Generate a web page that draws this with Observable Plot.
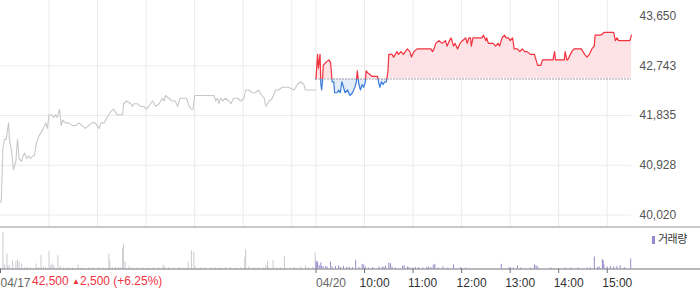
<!DOCTYPE html>
<html>
<head>
<meta charset="utf-8">
<script src="https://cdn.jsdelivr.net/npm/d3@7"></script>
<script src="https://cdn.jsdelivr.net/npm/@observablehq/plot@0.6"></script>
<style>
  html, body { margin: 0; padding: 0; background: #fff; }
  #chart { position: relative; width: 700px; height: 289px; overflow: hidden; font-family: "Liberation Sans", Arial, sans-serif; }
  #chart svg { position: absolute; left: 0; top: 0; }
  #summary { position: absolute; left: 32px; top: 275px; font-size: 12px; line-height: 13px; color: #f0333f; white-space: nowrap; }
  #summary .tri { font-size: 8px; position: relative; top: -1px; }
  #legend { position: absolute; left: 652px; top: 232px; font-family: "Noto Sans CJK KR", sans-serif; font-size: 11px; line-height: 12px; color: #333; white-space: nowrap; letter-spacing: -0.5px; }
  #legend .sw { display: inline-block; width: 3px; height: 8px; background: #9b87cf; margin-right: 3px; vertical-align: -1px; }
</style>
</head>
<body>
<div id="chart"></div>
<script>
// ---- data ----
const dayLabels = ["04/17", "04/20"];
const hourLabels = ["10:00", "11:00", "12:00", "13:00", "14:00", "15:00"];
const hourOffsets = [60, 120, 180, 240, 300, 360];   // minutes after 09:00
const sessionLength = 390;                            // 09:00 - 15:30
const basePrice = 42500;
const priceTicks = [40020, 40927.5, 41835, 42742.5, 43650];
const priceTickLabels = ["40,020", "40,928", "41,835", "42,743", "43,650"];
const summaryPrice = "42,500";
const summaryChange = "2,500";
const summaryPct = "(+6.25%)";
const legendLabel = "거래량";

// 04/17 price (minutes after 09:00, price)
const t17 = [0,1,3,5,7,10,11,14,16,19,
  21,23,26,28,30,32,35,37,40,42,
  44,47,49,53,56,58,60,63,66,68,
  70,73,75,77,80,84,89,93,97,101,
  105,109,113,117,122,124,128,132,136,140,
  144,148,151,152,156,161,163,165,169,173,
  177,180,183,188,192,196,200,202,204,208,
  212,216,219,222,227,230,233,236,238,240,
  243,247,255,264,266,268,270,272,275,278,
  282,285,288,293,297,301,303,307,311,315,
  319,323,326,328,332,336,340,344,348,352,
  356,363,367,371,375,377,383,389];
const p17 = [40250,40300,41250,41400,41400,41700,41400,41150,40850,41000,
  41400,41050,41000,41100,41150,41050,41100,41050,41100,41100,
  41300,41450,41500,41600,41700,41600,41850,41850,41800,41850,
  41800,41950,41650,41750,41700,41700,41650,41650,41700,41650,
  41600,41650,41700,41700,41600,41700,41700,41800,41900,41950,
  41850,41850,41850,42050,42100,42050,42000,42050,42050,42000,
  42000,41950,42000,42100,42000,42050,42150,42100,42200,42150,
  42100,42100,42000,42150,42150,42150,42000,41950,41950,42200,
  42200,42200,42200,42200,42100,42150,42050,42150,42100,42150,
  42100,42050,42150,42150,42100,42150,42300,42300,42250,42250,
  42300,42200,42150,42000,42100,42150,42300,42300,42350,42350,
  42350,42300,42400,42450,42400,42300,42300,42300];

// 04/20 price
const t20 = [0,2,3,5,6,7,8,9,12,16,
  18,20,22,23,26,28,30,32,34,36,
  39,42,45,48,50,51,53,55,57,59,
  61,62,65,69,74,76,78,79,81,83,
  85,87,89,90,94,96,100,102,105,108,
  113,116,118,121,125,129,133,134,137,142,
  144,146,148,152,156,160,162,165,167,170,
  172,175,178,181,185,187,189,191,192,194,
  197,201,205,207,210,211,213,216,219,222,
  225,227,230,233,235,238,240,243,245,249,
  252,255,258,261,265,270,272,274,276,278,
  280,285,289,293,295,296,301,307,308,310,
  311,313,316,319,323,328,332,335,338,341,
  344,345,348,352,356,360,364,368,370,372,
  374,376,381,385,388,390];
const p20 = [42500,42950,42700,42950,42400,42300,42450,42750,42800,42850,
  42800,42450,42450,42250,42250,42300,42250,42450,42350,42250,
  42300,42200,42250,42350,42450,42650,42400,42300,42400,42350,
  42450,42650,42600,42550,42550,42550,42400,42350,42450,42400,
  42450,42450,42650,42950,42950,42900,43000,42950,43000,42950,
  43050,43000,42900,43000,43050,43050,43050,43050,43050,43050,
  43000,43050,43150,43200,43150,43200,43100,43200,43250,43100,
  43150,43050,43150,43200,43250,43150,43250,43250,43100,43250,
  43250,43250,43250,43300,43200,43250,43150,43150,43150,43100,
  43150,43100,43250,43300,43250,43250,43200,43250,43050,43050,
  43000,43050,43000,43000,42950,42950,42850,42750,42750,42750,
  42850,42850,42850,42850,43000,42850,42850,42850,43000,42850,
  42850,42900,43000,43050,43050,43050,42950,42900,42950,43050,
  43100,43300,43300,43300,43350,43350,43350,43350,43200,43250,
  43200,43200,43200,43200,43200,43300];

// volume 04/17
const vt17 = [3,5,8,9,11,15,19,21,23,26,
  30,33,37,44,47,50,53,56,60,62,
  64,66,71,74,78,84,89,96,101,109,
  114,121,127,134,135,138,142,146,148,151,
  152,154,159,163,169,176,183,189,195,201,
  203,208,214,221,227,232,236,239,241,247,
  253,260,266,272,278,284,290,297,302,303,
  307,314,319,325,328,330,331,337,341,346,
  351,358,363,371,377,381,386,389];
const vv17 = [3650,400,1500,330,330,830,730,930,670,500,
  130,150,100,500,150,1330,270,150,1730,330,
  500,330,1330,270,120,120,100,400,100,120,
  100,150,100,1500,830,150,200,150,150,2070,
  2500,730,270,120,100,120,100,120,100,400,
  200,120,100,150,100,670,1830,1670,200,120,
  100,100,120,100,150,120,100,120,1170,1930,
  200,100,120,120,330,730,150,830,100,120,
  1230,100,150,200,330,150,200,1600];
// volume 04/20
const vt20 = [0,1,2,4,6,7,9,12,14,18,
  20,24,28,30,34,38,41,45,49,53,
  57,59,61,65,70,78,82,84,86,90,
  92,94,98,107,109,113,115,119,123,127,
  132,137,139,142,145,147,151,157,163,170,
  179,185,229,238,240,244,249,253,265,270,
  272,274,290,308,315,324,335,339,344,348,
  350,354,355,356,360,364,368,372,376,381,
  389];
const vv20 = [800,600,700,350,600,250,200,250,150,700,
  200,250,300,150,250,150,200,150,870,150,
  470,400,200,100,150,200,200,150,300,600,
  530,200,100,270,330,200,150,100,150,150,
  100,150,200,150,400,470,100,200,100,400,
  150,100,470,100,150,100,330,100,100,400,
  330,200,100,100,100,100,100,100,1200,150,
  200,930,800,400,200,250,200,250,330,150,
  1000];

// ---- tables ----
const rows17 = t17.map((t, i) => ({t, p: p17[i]}));
const rows20 = t20.map((t, i) => ({t: sessionLength + t, p: p20[i]}));
const vol17 = vt17.map((t, i) => ({t, v: vv17[i]}));
const vol20 = vt20.map((t, i) => ({t: sessionLength + t, v: vv20[i]}));
const gridTimes = [...hourOffsets, sessionLength, ...hourOffsets.map(h => sessionLength + h)];
const dayTicks = [0, sessionLength];
const hourTicks = hourOffsets.map(h => sessionLength + h);

const font = "'Liberation Sans', Arial, sans-serif";
const xScale = {domain: [0, 2 * sessionLength], range: [0, 631], axis: null};

const priceChart = Plot.plot({
  width: 700, height: 289,
  marginTop: 0, marginRight: 0, marginBottom: 62.5, marginLeft: 0,
  style: {background: "transparent", fontFamily: font, fontSize: "12px", overflow: "visible"},
  x: xScale,
  y: {domain: [priceTicks[0], priceTicks[4]], range: [214.5, 15.5], axis: null},
  marks: [
    Plot.ruleX(gridTimes, {stroke: "#ebebeb"}),
    Plot.ruleY(priceTicks.slice(0, 4), {x1: 0, x2: 2 * sessionLength, stroke: "#ebebeb"}),
    Plot.text(priceTicks, {y: d => d, text: (d, i) => priceTickLabels[i], frameAnchor: "right", textAnchor: "start", dx: -61, fill: "#555"}),
    Plot.areaY(rows20, {x: "t", y1: basePrice, y2: "p", fill: "#fde3e5", className: "clip-up"}),
    Plot.areaY(rows20, {x: "t", y1: basePrice, y2: "p", fill: "#e3ecf9", className: "clip-down"}),
    Plot.ruleY([basePrice], {x1: sessionLength, x2: 2 * sessionLength, stroke: "#555", strokeDasharray: "1,2"}),
    Plot.line(rows17, {x: "t", y: "p", stroke: "#c6c8cc", strokeWidth: 1.1}),
    Plot.line(rows20, {x: "t", y: "p", stroke: "#f4323e", strokeWidth: 1.2, className: "clip-up"}),
    Plot.line(rows20, {x: "t", y: "p", stroke: "#3a7ddb", strokeWidth: 1.2, className: "clip-down"}),
    Plot.frame({anchor: "bottom", stroke: "#8e9297"})
  ]
});

// clip the coloured marks above / below the reference price
const yBase = priceChart.scale("y").apply(basePrice);
const svgSel = d3.select(priceChart);
const defs = svgSel.insert("defs", ":first-child");
defs.append("clipPath").attr("id", "clipUp").append("rect").attr("x", 0).attr("y", 0).attr("width", 700).attr("height", yBase);
defs.append("clipPath").attr("id", "clipDown").append("rect").attr("x", 0).attr("y", yBase).attr("width", 700).attr("height", 289 - yBase);
svgSel.selectAll(".clip-up").attr("clip-path", "url(#clipUp)");
svgSel.selectAll(".clip-down").attr("clip-path", "url(#clipDown)");

const volChart = Plot.plot({
  width: 700, height: 289,
  marginTop: 228, marginRight: 0, marginBottom: 20.5, marginLeft: 0,
  style: {background: "transparent", fontFamily: font, fontSize: "12px", overflow: "visible"},
  x: xScale,
  y: {domain: [0, 4000], range: [268.5, 228.5], axis: null},
  marks: [
    Plot.ruleX(vol17, {x: "t", y1: 0, y2: "v", stroke: "#c9cbcf"}),
    Plot.ruleX(vol20, {x: "t", y1: 0, y2: "v", stroke: "#9b87cf"}),
    Plot.frame({anchor: "bottom", stroke: "#6f7378"}),
    Plot.ruleX([...dayTicks, ...hourTicks], {y1: 0, y2: -450, stroke: "#6f7378"}),
    Plot.text(dayTicks, {x: d => d, text: (d, i) => dayLabels[i], frameAnchor: "bottom", lineAnchor: "top", dy: 9, textAnchor: "start", fill: "#666"}),
    Plot.text(hourTicks, {x: d => d, text: (d, i) => hourLabels[i], frameAnchor: "bottom", lineAnchor: "top", dy: 9, dx: -5, textAnchor: "start", fill: "#333"})
  ]
});

const chart = document.getElementById("chart");
chart.append(priceChart);
chart.append(volChart);

const summary = document.createElement("div");
summary.id = "summary";
summary.innerHTML = `${summaryPrice} <span class="tri">▲</span>${summaryChange} ${summaryPct}`;
chart.append(summary);

const legend = document.createElement("div");
legend.id = "legend";
legend.innerHTML = `<span class="sw"></span>${legendLabel}`;
chart.append(legend);
</script>
</body>
</html>
